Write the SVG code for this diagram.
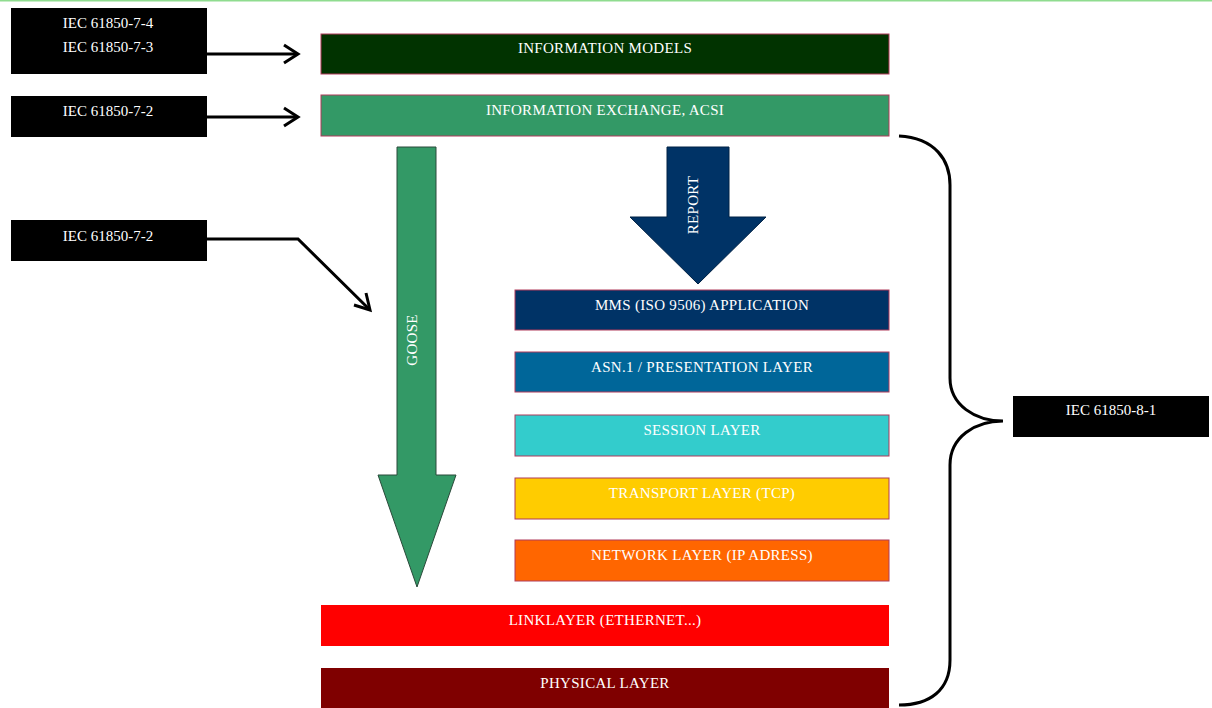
<svg xmlns="http://www.w3.org/2000/svg" width="1212" height="708" viewBox="0 0 1212 708">
<style>
.lbl{fill:#000}
.lt{font-family:"Liberation Serif","DejaVu Serif",serif;font-size:15px;fill:#fff;text-anchor:middle}
.layer{stroke:#b03a5b;stroke-width:1}
.lyt{font-family:"Liberation Serif","DejaVu Serif",serif;font-size:15px;fill:#fff;text-anchor:middle;letter-spacing:0.3px}
.conn{fill:none;stroke:#000;stroke-width:3;stroke-linejoin:miter}
</style>
<rect width="1212" height="708" fill="#fff"/>
<line x1="0" y1="0.5" x2="1212" y2="0.5" stroke="#8fdc8f" stroke-width="2"/>

<g id="lbl-7-4-7-3"><rect class="lbl" x="11" y="8" width="196" height="66"/><text class="lt" x="108" y="28">IEC 61850-7-4</text><text class="lt" x="108" y="52">IEC 61850-7-3</text></g>
<g id="lbl-7-2a"><rect class="lbl" x="11" y="96" width="196" height="41"/><text class="lt" x="108" y="116">IEC 61850-7-2</text></g>
<g id="lbl-7-2b"><rect class="lbl" x="11" y="220" width="196" height="41"/><text class="lt" x="108" y="241">IEC 61850-7-2</text></g>
<g id="lbl-8-1"><rect class="lbl" x="1013" y="396" width="196" height="41"/><text class="lt" x="1111" y="415">IEC 61850-8-1</text></g>

<g id="info-models"><rect class="layer" x="321" y="34" width="568" height="40" fill="#013300"/><text class="lyt" x="605" y="53">INFORMATION MODELS</text></g>
<g id="info-exchange"><rect class="layer" x="321" y="95" width="568" height="41" fill="#339966"/><text class="lyt" x="605" y="115">INFORMATION EXCHANGE, ACSI</text></g>
<g id="mms"><rect class="layer" x="515" y="290" width="374" height="40" fill="#003366"/><text class="lyt" x="702" y="310">MMS (ISO 9506) APPLICATION</text></g>
<g id="asn1"><rect class="layer" x="515" y="352" width="374" height="40" fill="#006699"/><text class="lyt" x="702" y="372">ASN.1 / PRESENTATION LAYER</text></g>
<g id="session"><rect class="layer" x="515" y="415" width="374" height="41" fill="#33cccc"/><text class="lyt" x="702" y="435">SESSION LAYER</text></g>
<g id="transport"><rect class="layer" x="515" y="478" width="374" height="41" fill="#ffcc00"/><text class="lyt" x="702" y="498">TRANSPORT LAYER (TCP)</text></g>
<g id="network"><rect class="layer" x="515" y="540" width="374" height="41" fill="#ff6600"/><text class="lyt" x="702" y="560">NETWORK LAYER (IP ADRESS)</text></g>
<g id="link"><rect x="321" y="605" width="568" height="41" fill="#ff0000"/><text class="lyt" x="605" y="625">LINKLAYER (ETHERNET...)</text></g>
<g id="physical"><rect x="321" y="668" width="568" height="40" fill="#7f0000"/><text class="lyt" x="605" y="688">PHYSICAL LAYER</text></g>

<g id="goose"><path d="M397,147 L436,147 L436,475 L456,475 L417,587 L378,475 L397,475 Z" fill="#339966" stroke="#2a4a3a" stroke-width="1"/><text class="lyt" transform="translate(417,340) rotate(-90)">GOOSE</text></g>
<g id="report"><path d="M667,147 L729,147 L729,217 L766,217 L698,284 L630,217 L667,217 Z" fill="#003366" stroke="#002244" stroke-width="1"/><text class="lyt" transform="translate(698,205) rotate(-90)">REPORT</text></g>

<g id="connectors">
<path class="conn" d="M207,54 L297,54"/><path class="conn" d="M284,45 L298,54 L284,63"/>
<path class="conn" d="M207,117 L297,117"/><path class="conn" d="M284,108 L298,117 L284,126"/>
<path class="conn" d="M207,239 L298,239 L369,309"/><path class="conn" d="M354,305 L370,310 L366,293"/>
<path class="conn" d="M899,136 C935,138 950,160 950,185 L950,378 C950,405 975,421 1003,421 C975,421 950,437 950,465 L950,660 C950,690 930,705 899,705"/>
</g>
</svg>
